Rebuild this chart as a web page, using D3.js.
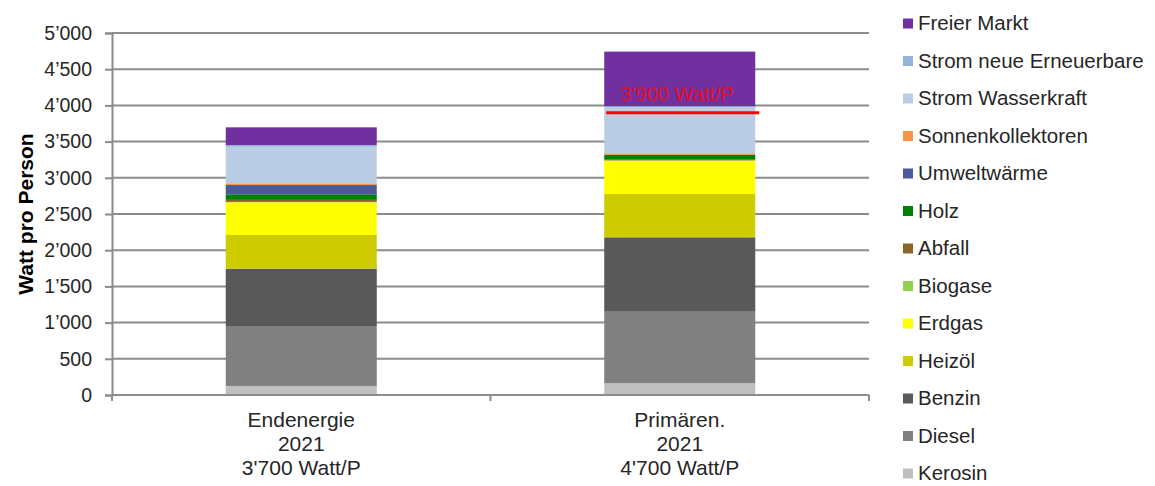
<!DOCTYPE html>
<html>
<head>
<meta charset="utf-8">
<script src="https://cdn.jsdelivr.net/npm/d3@7"></script>
<style>
  html, body { margin: 0; padding: 0; background: #fff; }
  svg { display: block; font-family: "Liberation Sans", Arial, sans-serif; }
</style>
</head>
<body>
<svg id="chart" width="1155" height="486"></svg>
<script>
// Energy use per person, stacked by carrier (Watt per person)
const categories = ["Endenergie", "Primären."];
const categoryYear = ["2021", "2021"];
const categoryTotal = ["3'700 Watt/P", "4'700 Watt/P"];

// stacking order from the bottom up
const seriesNames = [
  "Kerosin", "Diesel", "Benzin", "Heizöl", "Erdgas", "Biogase", "Abfall",
  "Holz", "Umweltwärme", "Sonnenkollektoren", "Strom Wasserkraft",
  "Strom neue Erneuerbare", "Freier Markt"
];
const endenergie = [125, 828, 792, 465, 452, 5, 28, 77, 128, 23, 506, 23, 245];
const primaer    = [162, 988, 1028, 598, 460, 5, 17, 62, 0, 19, 636, 14, 754];
const seriesColors = [
  "#BFBFBF", "#808080", "#595959", "#CCCC00", "#FFFF00", "#92D050", "#8A6428",
  "#008000", "#4B5A98", "#F79646", "#B9CDE5", "#95B3D7", "#7030A0"
];

const yTicks = [0, 500, 1000, 1500, 2000, 2500, 3000, 3500, 4000, 4500, 5000];
const targetValue = 3900;
const targetLabel = "3'900 Watt/P";
const yTitle = "Watt pro Person";

const svg = d3.select("#chart");
const plotLeft = 112, plotRight = 869, plotTop = 33, plotBottom = 395;

const x = d3.scaleBand().domain(categories).range([plotLeft, plotRight])
  .paddingInner(0.601).paddingOuter(0.3005);
const y = d3.scaleLinear().domain([0, 5000]).range([plotBottom, plotTop]);

const fmt = v => d3.format(",")(v).replace(/,/g, "\u2019");

// horizontal gridlines
svg.append("g").selectAll("line").data(yTicks.filter(d => d > 0)).join("line")
  .attr("x1", plotLeft).attr("x2", plotRight)
  .attr("y1", d => y(d)).attr("y2", d => y(d))
  .attr("stroke", "#8C8C8C").attr("stroke-width", 2);

// stacked bars
const rows = categories.map((c, i) => {
  const r = { cat: c };
  seriesNames.forEach((s, j) => r[s] = (i === 0 ? endenergie : primaer)[j]);
  return r;
});
const stack = d3.stack().keys(seriesNames)(rows);
const color = d3.scaleOrdinal().domain(seriesNames).range(seriesColors);

svg.append("g").selectAll("g").data(stack).join("g")
  .attr("fill", d => color(d.key))
  .selectAll("rect").data(d => d).join("rect")
  .attr("x", d => x(d.data.cat))
  .attr("width", x.bandwidth())
  .attr("y", d => y(d[1]))
  .attr("height", d => Math.max(0, y(d[0]) - y(d[1])));

// y axis
const yAxis = d3.axisLeft(y).tickValues(yTicks).tickFormat(fmt).tickSize(7).tickPadding(13);
const gy = svg.append("g").attr("transform", `translate(${plotLeft},0)`).call(yAxis);
gy.select(".domain").attr("stroke", "#8C8C8C").attr("stroke-width", 2);
gy.selectAll(".tick line").attr("stroke", "#8C8C8C").attr("stroke-width", 2);
gy.selectAll(".tick text").attr("font-size", 19.5).attr("fill", "#262626")
  .attr("font-family", "Liberation Sans, Arial, sans-serif");

// x axis with boundary ticks between categories
svg.append("line").attr("x1", plotLeft).attr("x2", plotRight)
  .attr("y1", plotBottom).attr("y2", plotBottom)
  .attr("stroke", "#8C8C8C").attr("stroke-width", 2);
const bounds = [plotLeft, plotLeft + x.step(), plotRight];
svg.append("g").selectAll("line").data(bounds).join("line")
  .attr("x1", d => d).attr("x2", d => d).attr("y1", plotBottom).attr("y2", plotBottom + 6)
  .attr("stroke", "#8C8C8C").attr("stroke-width", 2);

// category labels (three lines each)
const cx = d => x(d) + x.bandwidth() / 2;
const catG = svg.append("g").selectAll("text").data(categories).join("text")
  .attr("text-anchor", "middle").attr("font-size", 21).attr("fill", "#262626")
  .attr("x", cx).attr("y", 427);
catG.append("tspan").attr("x", cx).text(d => d);
catG.append("tspan").attr("x", cx).attr("dy", 24).text((d, i) => categoryYear[i]);
catG.append("tspan").attr("x", cx).attr("dy", 24).text((d, i) => categoryTotal[i]);

// y axis title
svg.append("text")
  .attr("transform", `translate(33,${(plotTop + plotBottom) / 2}) rotate(-90)`)
  .attr("text-anchor", "middle").attr("font-size", 21).attr("font-weight", "bold")
  .attr("fill", "#000").text(yTitle);

// target marker on the primary energy bar
const tx = x(categories[1]);
svg.append("line")
  .attr("x1", tx + 2).attr("x2", tx + x.bandwidth() + 4)
  .attr("y1", y(targetValue)).attr("y2", y(targetValue))
  .attr("stroke", "#FF0000").attr("stroke-width", 3);
svg.append("text")
  .attr("x", tx + x.bandwidth() / 2 - 2.5).attr("y", y(targetValue) - 12)
  .attr("text-anchor", "middle").attr("font-size", 20).attr("fill", "#E0102A")
  .text(targetLabel);

// legend, top entry is the top of the stack
const legendItems = seriesNames.slice().reverse();
const lg = svg.append("g").selectAll("g").data(legendItems).join("g")
  .attr("transform", (d, i) => `translate(903,${23.5 + i * 37.5})`);
lg.append("rect").attr("x", 0).attr("y", -5).attr("width", 10).attr("height", 10)
  .attr("fill", d => color(d));
lg.append("text").attr("x", 15).attr("y", 6.5).attr("font-size", 20.5)
  .attr("fill", "#262626").text(d => d);
</script>
</body>
</html>
